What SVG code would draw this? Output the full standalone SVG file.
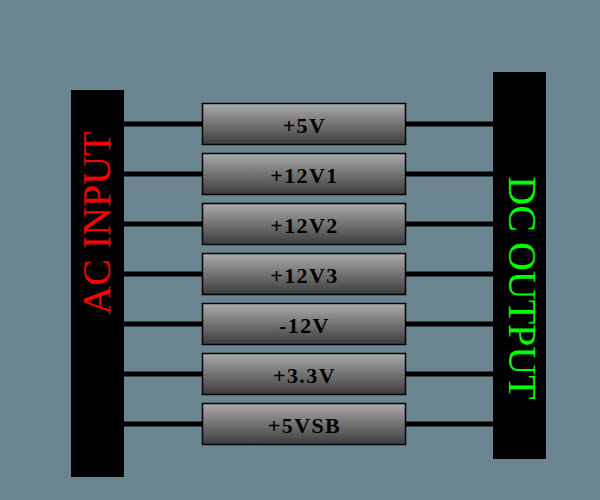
<svg xmlns="http://www.w3.org/2000/svg" width="600" height="500" viewBox="0 0 600 500">
<defs>
<linearGradient id="g" x1="0" y1="0" x2="0" y2="1">
<stop offset="0" stop-color="#ababab"/>
<stop offset="1" stop-color="#3c3c3c"/>
</linearGradient>
<style>
.bar{fill:#000}
.box{fill:url(#g);stroke:#000;stroke-width:1.5}
.lbl{font-family:"Liberation Serif",serif;font-weight:bold;font-size:22px;letter-spacing:1.4px;fill:#000;text-anchor:middle}
.big{font-family:"Liberation Serif",serif;font-size:40px;text-anchor:middle}
.wire{stroke:#000;stroke-width:5;fill:none}
</style>
</defs>
<rect width="600" height="500" fill="#6b8691"/>
<g id="connectors">
<path class="wire" d="M124 124H202M405 124H493M124 174H202M405 174H493M124 224H202M405 224H493M124 274H202M405 274H493M124 324H202M405 324H493M124 374H202M405 374H493M124 424H202M405 424H493"/>
</g>
<g id="ac-input">
<rect class="bar" x="71" y="90" width="53" height="387"/>
<text class="big" fill="#ff0000" transform="translate(110,223) rotate(-90)">AC INPUT</text>
</g>
<g id="dc-output">
<rect class="bar" x="493" y="72" width="53" height="387"/>
<text class="big" fill="#00ff00" transform="translate(509,288) rotate(90)">DC OUTPUT</text>
</g>
<g id="n5v"><rect class="box" x="202.5" y="103.5" width="203" height="41"/><text class="lbl" x="304.5" y="132.5">+5V</text></g>
<g id="n12v1"><rect class="box" x="202.5" y="153.5" width="203" height="41"/><text class="lbl" x="304.5" y="182.5">+12V1</text></g>
<g id="n12v2"><rect class="box" x="202.5" y="203.5" width="203" height="41"/><text class="lbl" x="304.5" y="232.5">+12V2</text></g>
<g id="n12v3"><rect class="box" x="202.5" y="253.5" width="203" height="41"/><text class="lbl" x="304.5" y="282.5">+12V3</text></g>
<g id="nm12v"><rect class="box" x="202.5" y="303.5" width="203" height="41"/><text class="lbl" x="304.5" y="332.5">-12V</text></g>
<g id="n33v"><rect class="box" x="202.5" y="353.5" width="203" height="41"/><text class="lbl" x="304.5" y="382.5">+3.3V</text></g>
<g id="n5vsb"><rect class="box" x="202.5" y="403.5" width="203" height="41"/><text class="lbl" x="304.5" y="432.5">+5VSB</text></g>
</svg>
